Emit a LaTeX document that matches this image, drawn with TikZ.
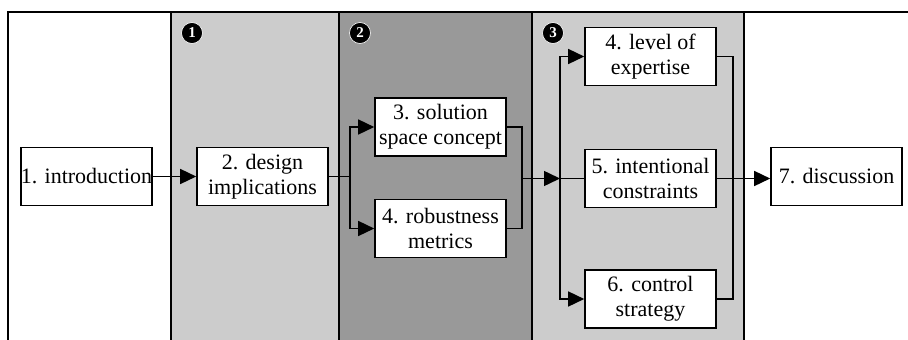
\documentclass[tikz,border=0pt]{standalone}
\usepackage{fontspec}
\setmainfont{Liberation Serif}
\usetikzlibrary{arrows.meta}
\definecolor{lightcol}{HTML}{CCCCCC}
\definecolor{darkcol}{HTML}{999999}
\begin{document}
\begin{tikzpicture}[x=1pt,y=-1pt,
  boxnode/.style={draw=black,fill=white,line width=1.6pt,minimum width=131pt,minimum height=58pt,
    inner sep=0pt,align=center,font=\fontsize{22}{25}\selectfont},
  frameline/.style={line width=2pt,draw=black},
  conn/.style={line width=1.5pt,draw=black},
  arr/.style={conn,-{Triangle[length=16pt,width=15pt]}},
  badge/.style={circle,fill=black,draw=white,line width=0.6pt,minimum size=21pt,inner sep=0pt,
    text=white,font=\fontsize{15}{15}\selectfont\bfseries}]
\useasboundingbox (0,0) rectangle (908,340);
% columns
\fill[lightcol] (171,12) rectangle (339,342);
\fill[darkcol] (339,12) rectangle (532,342);
\fill[lightcol] (532,12) rectangle (744,342);
\draw[frameline] (8,342) -- (8,12) -- (910,12);
\foreach \xx in {171,339,532,744} {\draw[frameline] (\xx,12) -- (\xx,342);}
% badges
\node[badge] (b1) at (192,33) {1};
\node[badge] (b2) at (360,33) {2};
\node[badge] (b3) at (553,33) {3};
% nodes
\node[boxnode] (intro) at (86.5,176.5) {1. introduction};
\node[boxnode] (design) at (262.5,176.5) {2. design\\implications};
\node[boxnode] (sol) at (440.5,127) {3. solution\\space concept};
\node[boxnode] (rob) at (440.5,228.5) {4. robustness\\metrics};
\node[boxnode] (exp) at (650.5,56.5) {4. level of\\expertise};
\node[boxnode] (int) at (650.5,178.5) {5. intentional\\constraints};
\node[boxnode] (ctrl) at (650.5,299) {6. control\\strategy};
\node[boxnode] (disc) at (836.5,176.5) {7. discussion};
% junctions
\coordinate (j1) at (350,176.5);
\coordinate (j2) at (522,178.5);
\coordinate (j3) at (560,178.5);
\coordinate (j4) at (733,178.5);
% connectors
\draw[arr] (intro.east) -- (design.west);
\draw[conn] (design.east) -- (j1);
\draw[arr] (j1) |- (sol.west);
\draw[arr] (j1) |- (rob.west);
\draw[conn] (sol.east) -| (j2);
\draw[conn] (rob.east) -| (j2);
\draw[arr] (j2) -- (j3);
\draw[arr] (j3) |- (exp.west);
\draw[arr] (j3) |- (ctrl.west);
\draw[conn] (j3) -- (int.west);
\draw[conn] (exp.east) -| (j4);
\draw[conn] (ctrl.east) -| (j4);
\draw[arr] (int.east) -- (int.east -| disc.west);
\end{tikzpicture}
\end{document}
